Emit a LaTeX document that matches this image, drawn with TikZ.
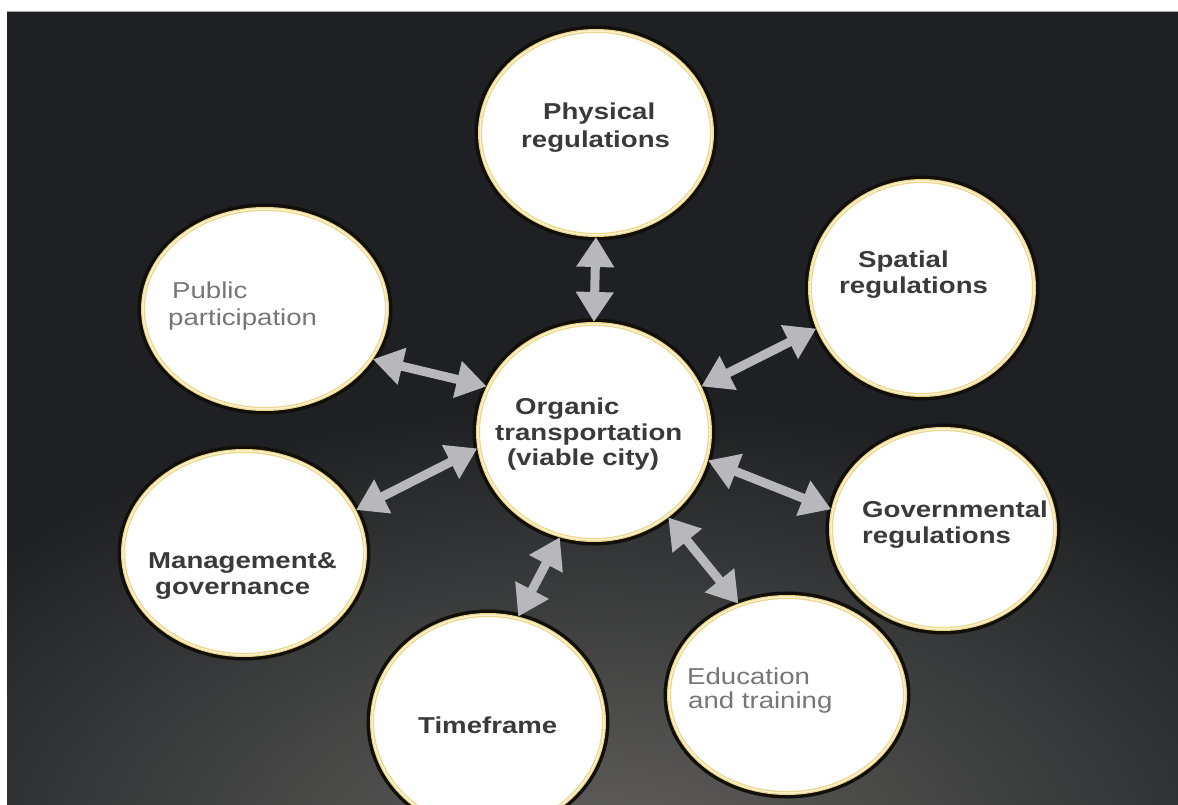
\documentclass[tikz,border=0pt]{standalone}
\usepackage{fontspec}
\usepackage{graphicx}
\setmainfont{Liberation Sans}
\usetikzlibrary{shapes.geometric,arrows.meta}
\definecolor{bgdark}{RGB}{30,32,35}
\definecolor{glowc}{RGB}{98,97,94}
\definecolor{ringy}{RGB}{236,214,140}
\definecolor{ringd}{RGB}{18,15,8}
\definecolor{ringl}{RGB}{250,242,205}
\definecolor{arrg}{RGB}{184,184,188}
\definecolor{txtb}{RGB}{58,58,60}
\definecolor{txtr}{RGB}{118,118,120}
\newcommand\wtx[1]{\scalebox{1.2}[1]{#1}}
\tikzset{
  bub/.style={ellipse, inner sep=0pt, fill=white, draw=ringy, line width=4pt,
    preaction={draw=ringd, line width=11pt},
    postaction={draw=ringl, line width=1.5pt}},
  dbl/.style={draw=arrg, line width=9pt,
    {Triangle[width=36pt,length=30pt]}-{Triangle[width=36pt,length=30pt]}},
  btx/.style={anchor=base west, inner sep=0pt, text=txtb,
    font=\fontsize{23}{28}\selectfont\bfseries},
  rtx/.style={anchor=base west, inner sep=0pt, text=txtr,
    font=\fontsize{23}{28}\selectfont}
}
\begin{document}
\begin{tikzpicture}[x=1pt,y=-1pt]
\useasboundingbox (0,0) rectangle (1178,805);
\clip (0,0) rectangle (1178,805);
\fill[white] (0,0) rectangle (1178,805);
\fill[bgdark] (7,11) rectangle (1178,805);
\begin{scope}
\clip (7,11) rectangle (1178,805);
\shade[inner color=glowc, outer color=bgdark] (600,860) ellipse (820 and 460);
\end{scope}
\draw[gray!70, line width=1pt] (7,11.5) -- (1178,11.5);

% bubbles
\node[bub, minimum width=232pt, minimum height=204pt] (phys) at (596,133) {};
\node[bub, minimum width=224pt, minimum height=214pt] (spat) at (922,288) {};
\node[bub, minimum width=244pt, minimum height=200pt] (pub)  at (265,309) {};
\node[bub, minimum width=232pt, minimum height=216pt] (org)  at (594,432) {};
\node[bub, minimum width=224pt, minimum height=200pt] (gov)  at (943,529) {};
\node[bub, minimum width=242pt, minimum height=204pt] (mgmt) at (244,553) {};
\node[bub, minimum width=232pt, minimum height=214pt] (time) at (488,722) {};
\node[bub, minimum width=236pt, minimum height=196pt] (edu)  at (787,695) {};

% arrows
\draw[dbl] (phys.-90) -- (org.90);
\draw[dbl] (spat.201) -- (org.23);
\draw[dbl] (pub.-25) -- (org.157.6);
\draw[dbl] (mgmt.21.6) -- (org.188.8);
\draw[dbl] (time.74) -- (org.252.7);
\draw[dbl] (edu.118) -- (org.-49.8);
\draw[dbl] (gov.170.6) -- (org.-14.5);

% texts
\node[btx] (physA) at (543,120) {\wtx{Physical}};
\node[btx] (physB) at (521,148) {\wtx{regulations}};
\node[btx] (spatA) at (858,267) {\wtx{Spatial}};
\node[btx] (spatB) at (839,293) {\wtx{regulations}};
\node[rtx] (pubA) at (172,298) {\wtx{Public}};
\node[rtx] (pubB) at (168,325) {\wtx{participation}};
\node[btx] (orgA) at (515,414) {\wtx{Organic}};
\node[btx] (orgB) at (495,440) {\wtx{transportation}};
\node[btx] (orgC) at (507,465) {\wtx{(viable city)}};
\node[btx] (govA) at (862,517) {\wtx{Governmental}};
\node[btx] (govB) at (862,543) {\wtx{regulations}};
\node[btx] (mgmtA) at (148,568) {\wtx{Management\&}};
\node[btx] (mgmtB) at (155,594) {\wtx{governance}};
\node[btx] (timeA) at (418,733) {\wtx{Timeframe}};
\node[rtx] (eduA) at (687,684) {\wtx{Education}};
\node[rtx] (eduB) at (688,708) {\wtx{and training}};
\end{tikzpicture}
\end{document}
